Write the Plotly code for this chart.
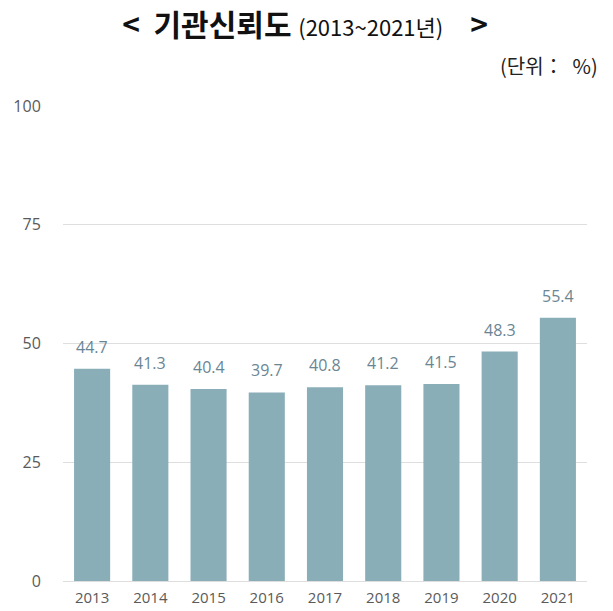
import plotly.graph_objects as go

years = ["2013", "2014", "2015", "2016", "2017", "2018", "2019", "2020", "2021"]
trust = [44.7, 41.3, 40.4, 39.7, 40.8, 41.2, 41.5, 48.3, 55.4]
y_ticks = [0, 25, 50, 75, 100]

BAR = "#8aaeb8"
LABEL = "#6a8694"
TICK = "#5a5a5a"

fig = go.Figure()
fig.add_trace(go.Bar(x=years, y=trust, marker=dict(color=BAR, line=dict(width=0)),
                     hoverinfo="x+y"))

for i, v in enumerate(trust):
    fig.add_annotation(x=i, y=v, text=f"{v:.1f}", showarrow=False,
                       yanchor="middle", yshift=22,
                       font=dict(family="Open Sans, Noto Sans, sans-serif", size=16, color=LABEL))

fig.add_annotation(xref="paper", yref="paper", x=(600 - 63) / 524, y=(581 - 65) / 475,
                   xanchor="right", yanchor="middle", showarrow=False,
                   text="(단위：\u00a0\u00a0%)",
                   font=dict(family="Noto Sans CJK KR, sans-serif", size=20, color="#222"))

fig.update_layout(
    width=613, height=611,
    margin=dict(l=63, r=26, t=106, b=30),
    plot_bgcolor="white", paper_bgcolor="white",
    showlegend=False,
    bargap=0.38,
    title=dict(
        text="<b>&lt;\u00a0\u00a0기관신뢰도</b> <span style='font-size:22px'>(2013~2021년)</span>\u00a0\u00a0\u00a0\u00a0<b>&gt;</b>",
        x=305 / 613, xanchor="center", xref="container",
        y=1 - 25 / 611, yanchor="middle", yref="container",
        font=dict(family="Noto Sans CJK KR, sans-serif", size=30, color="#111"),
    ),
    xaxis=dict(
        type="category", range=[-0.5, 8.5], automargin=False,
        ticks="outside", ticklen=3, tickcolor="rgba(0,0,0,0)",
        showline=False, showgrid=False,
        tickfont=dict(family="Open Sans, Noto Sans, sans-serif", size=15, color=TICK),
    ),
    yaxis=dict(
        range=[0, 100], tickvals=y_ticks, automargin=False,
        ticks="outside", ticklen=18, tickcolor="rgba(0,0,0,0)",
        showgrid=True, gridcolor="#dedede", gridwidth=1,
        zeroline=True, zerolinecolor="#dedede", zerolinewidth=1,
        showline=False,
        tickfont=dict(family="Open Sans, Noto Sans, sans-serif", size=16, color=TICK),
    ),
)

fig.write_html("out.html")
